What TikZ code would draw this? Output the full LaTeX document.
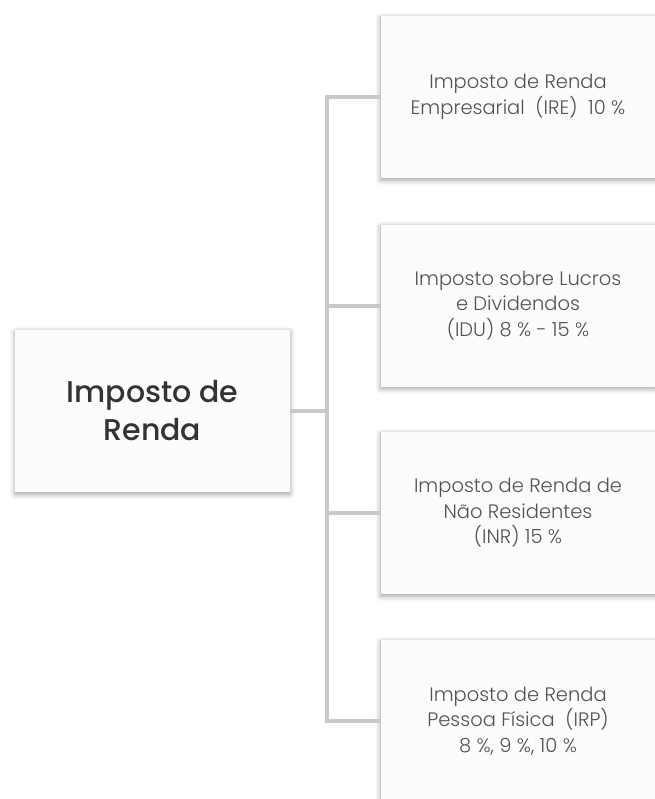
\documentclass[tikz,border=0pt]{standalone}
\usepackage{fontspec}
\setmainfont{Poppins}
\newfontfamily\leaffont{Poppins}[UprightFont=* Light]
\newfontfamily\rootfont{Poppins}[UprightFont=* Medium]
\usetikzlibrary{shadows.blur}
\definecolor{boxfill}{HTML}{FDFCFA}
\definecolor{linegray}{HTML}{C9C9C9}
\tikzset{
  box/.style={draw=none, fill=boxfill, minimum width=206pt, minimum height=121.5pt,
    align=center, blur shadow={shadow xshift=0pt, shadow yshift=-1.5pt, shadow blur radius=4pt, shadow opacity=40}},
  rootbox/.style={box, font=\rootfont\fontsize{22.5}{28.5}\selectfont, text=black!80},
  leafbox/.style={box, font=\leaffont\fontsize{14.6}{19.2}\selectfont, text=black!68},
  branch/.style={draw=linegray, line width=3pt}
}
\begin{document}
\begin{tikzpicture}[x=0.75pt, y=-0.75pt]
\useasboundingbox (0,0) rectangle (655,799);
% root
\node[rootbox] (renda) at (152.5,411) {Imposto de\\Renda};
% leaves
\node[leafbox] (ire) at (518,97) {Imposto de Renda\\Empresarial~~(IRE)~~10~\%};
\node[leafbox] (idu) at (518,305.5) {Imposto sobre Lucros\\e Dividendos\\(IDU) 8~\% - 15~\%};
\node[leafbox] (inr) at (518,513) {Imposto de Renda de\\Não Residentes\\(INR) 15~\%};
\node[leafbox] (irp) at (518,721) {Imposto de Renda\\Pessoa Física~~(IRP)\\8~\%, 9~\%, 10~\%};
% connectors
\draw[branch] (renda.east) -- ++(37,0) coordinate (fork);
\foreach \leaf in {ire,idu,inr,irp}
  \draw[branch] (fork) |- (\leaf.west);
\end{tikzpicture}
\end{document}
